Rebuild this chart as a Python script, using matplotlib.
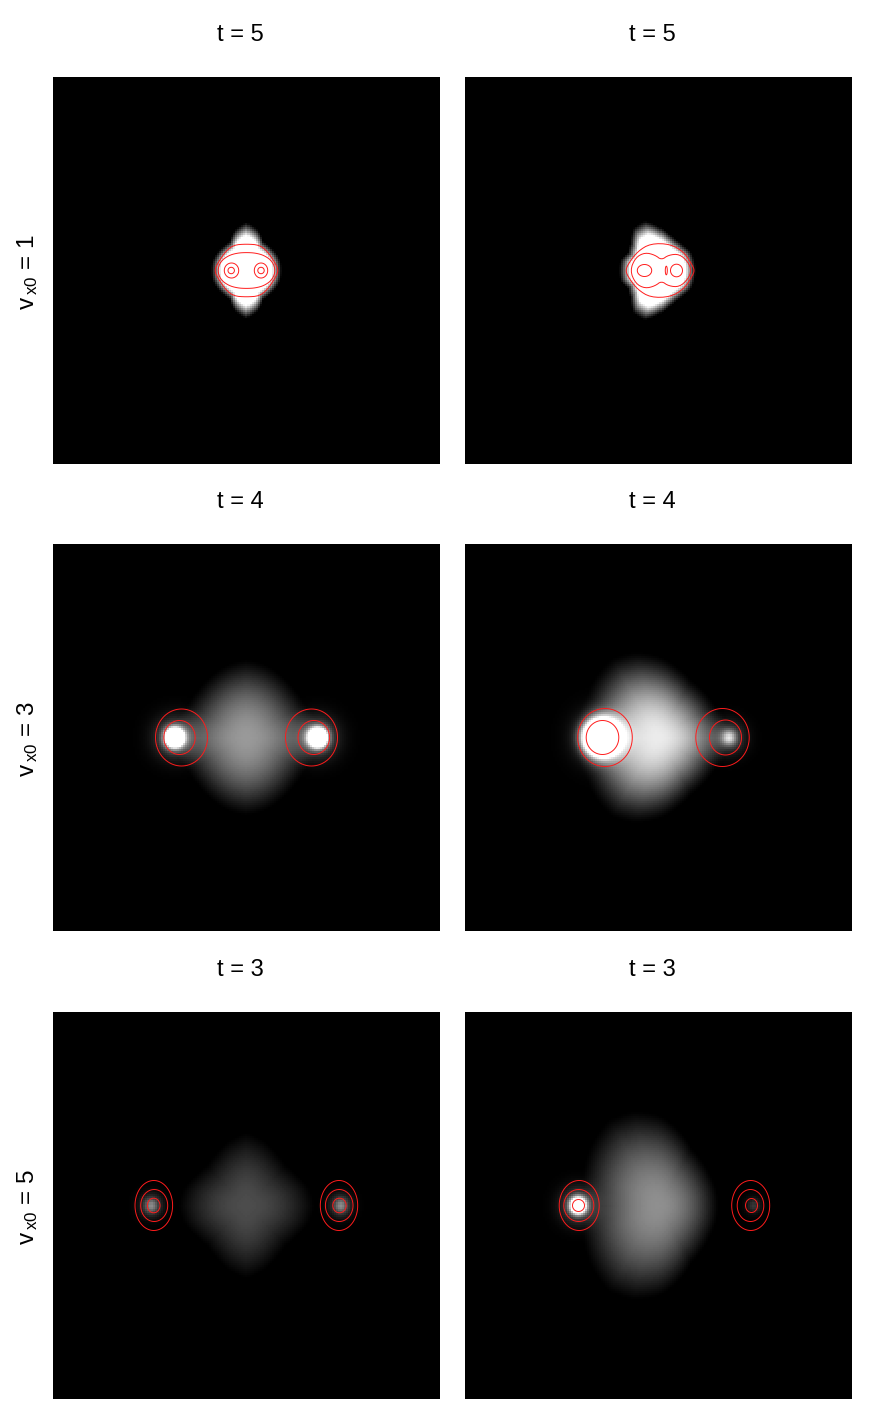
import numpy as np
import matplotlib
matplotlib.use('Agg')
import matplotlib.pyplot as plt
from matplotlib.patches import Polygon

plt.rcParams['font.family'] = ['Liberation Sans', 'DejaVu Sans']
plt.rcParams['mathtext.fontset'] = 'custom'
plt.rcParams['mathtext.rm'] = 'Liberation Sans'

W, H = 886, 1421
PANEL = 387
COLS = [53, 465]
ROWS = [77, 544, 1012]

TITLES = ['t = 5', 't = 4', 't = 3']
ROW_LABELS = [r'$\mathrm{v_{\,x0}}$ = 1', r'$\mathrm{v_{\,x0}}$ = 3', r'$\mathrm{v_{\,x0}}$ = 5']

# outline of the central cloud, radius in px every 15 deg from 0 to 180
radii_1a = [35, 35, 34, 33, 33, 42, 48, 42, 33, 33, 34, 35, 35]
radii_1b = [37, 37, 37, 35, 35, 38, 44, 51, 49, 39, 35, 39, 39]
radii_3a = [76, 72, 67, 68, 71, 75, 78, 75, 71, 68, 67, 72, 76]
radii_3b = [74, 70, 65, 65, 66, 73, 82, 89, 92, 88, 83, 83, 87]
radii_5a = [68, 65, 59, 56, 60, 67, 73, 67, 60, 56, 59, 65, 68]
radii_5b = [60, 60, 60, 62, 66, 78, 91, 98, 99, 92, 85, 78, 75]

# central brightness (above 1 saturates to white) and how fast it fades
peak_1a, peak_1b = 2.6, 2.6
peak_3a, peak_3b = 0.6, 0.92
peak_5a, peak_5b = 0.3, 0.56
falloff_1a, falloff_1b = 1.3, 1.3
falloff_3a, falloff_3b = 1.35, 1.5
falloff_5a, falloff_5b = 1.2, 1.3

# bright spots: x, amplitude, sigma x, sigma y
spots_3a = [(-71.5, 2.5, 6, 6), (-71.5, 0.35, 14, 14), (71, 2.5, 6, 6), (71, 0.35, 14, 14)]
spots_3b = [(-57, 4, 10, 10), (-57, 0.35, 17, 17), (70.5, 0.6, 5, 5), (70.5, 0.28, 11, 11)]
spots_5a = [(-95, 0.3, 4.5, 4.5), (-95, 0.25, 8, 8), (94, 0.3, 4.5, 4.5), (94, 0.25, 8, 8)]
spots_5b = [(-80, 2.2, 5, 5), (-80, 0.35, 12, 12), (95, 0.12, 4, 4), (95, 0.1, 6, 6)]

# red contours that are nearly elliptical: cx, cy, rx, ry
rings_1a = [(-15, 0, 7.2, 7.5), (-15.3, 0, 3.2, 3.2), (14.5, 0, 6.7, 7.5), (14.5, 0, 3.2, 3.2)]
rings_1b = [(-14, 0, 7.2, 6), (18, 0, 6, 6.3), (7.8, 0, 1, 4.3)]
rings_3a = [(-65, 0, 26, 28.5), (-67, 0, 15.7, 17), (65, 0, 26, 28.5), (67.3, 0, 15.8, 17)]
rings_3b = [(-53.5, 0, 27.3, 29), (-56, 0, 16.3, 17), (64, 0, 26.7, 29), (67, 0, 16, 17.5)]
rings_5a = [(-92.7, 0, 18.8, 25), (-92.3, 0, 13.5, 16), (-92.8, 0, 6.3, 7.3),
            (92.5, 0, 18.7, 25), (92.7, 0, 13.8, 16), (93, 0, 6.7, 7.3)]
rings_5b = [(-79.3, 0, 20, 25), (-79.7, 0, 15, 16), (-80, 0, 6, 6),
            (92.2, 0, 19, 25), (92, 0, 13.3, 16), (93, 0, 6, 7)]

# other contours, upper half only, mirrored in y when drawn
outer_1a = [(32, 0), (29, 7), (21, 19), (13, 25.5), (0, 26.5), (-13, 25.5), (-21, 19), (-29, 7), (-32, 0)]
inner_1a = [(29, 0), (26, 9), (18, 15), (9, 17.5), (0, 18), (-9, 17.5), (-18, 15), (-26, 9), (-29, 0)]
outer_1b = [(36, 0), (34, 5), (26, 18), (12, 26.5), (-8, 27), (-21, 19), (-30, 7), (-33, 0)]
inner_1b = [(32.5, 0), (30, 8), (21, 16.5), (10, 15.5), (3, 10.5), (-3.5, 15.5), (-13.5, 18), (-23, 13), (-28.5, 0)]

panels = [
    [(radii_1a, peak_1a, falloff_1a, [], rings_1a, [outer_1a, inner_1a]),
     (radii_1b, peak_1b, falloff_1b, [], rings_1b, [outer_1b, inner_1b])],
    [(radii_3a, peak_3a, falloff_3a, spots_3a, rings_3a, []),
     (radii_3b, peak_3b, falloff_3b, spots_3b, rings_3b, [])],
    [(radii_5a, peak_5a, falloff_5a, spots_5a, rings_5a, []),
     (radii_5b, peak_5b, falloff_5b, spots_5b, rings_5b, [])],
]


def build_field(radii, peak, falloff, spots, n=193):
    half = PANEL / 2
    c = (np.arange(n) + 0.5) / n * PANEL - half
    x, y = np.meshgrid(c, c)
    ang = np.degrees(np.arctan2(np.abs(y), x))
    edge = np.interp(ang, np.arange(0, 181, 15), radii)
    u = np.hypot(x, y) / edge
    img = peak * np.clip(1 - u ** 2, 0, 1) ** falloff
    for sx0, amp, sx, sy in spots:
        img += amp * np.exp(-((x - sx0) ** 2 / (2 * sx ** 2) + y ** 2 / (2 * sy ** 2)))
    return img


def rounded(pts, passes=2):
    # corner cutting so the read-off outline does not look like a polygon
    for _ in range(passes):
        nxt = np.roll(pts, -1, axis=0)
        pts = np.column_stack([0.75 * pts + 0.25 * nxt, 0.25 * pts + 0.75 * nxt]).reshape(-1, 2)
    return pts


def draw_line(ax, pts):
    ax.add_patch(Polygon(pts, closed=True, fill=False, ec='#ff1c1c', lw=0.7))


fig = plt.figure(figsize=(W / 100, H / 100), dpi=100)

for r, top in enumerate(ROWS):
    for c, left in enumerate(COLS):
        radii, peak, falloff, spots, rings, outlines = panels[r][c]
        ax = fig.add_axes([left / W, 1 - (top + PANEL) / H, PANEL / W, PANEL / H])
        ax.imshow(build_field(radii, peak, falloff, spots), cmap='gray', vmin=0, vmax=1,
                  origin='lower', interpolation='nearest',
                  extent=[-PANEL / 2, PANEL / 2, -PANEL / 2, PANEL / 2])
        t = np.linspace(0, 2 * np.pi, 80, endpoint=False)
        for cx, cy, rx, ry in rings:
            draw_line(ax, np.column_stack([cx + rx * np.cos(t), cy + ry * np.sin(t)]))
        for line in outlines:
            pts = np.array(line)
            lower = pts[-2:0:-1] * [1, -1]
            draw_line(ax, rounded(np.vstack([pts, lower])))
        ax.set_xticks([])
        ax.set_yticks([])
        for s in ax.spines.values():
            s.set_visible(False)
        fig.text((left + PANEL / 2 - 6) / W, 1 - (top - 42) / H, TITLES[r], fontsize=17,
                 ha='center', va='center')
    fig.text(27.5 / W, 1 - (top + PANEL / 2 + 2) / H, ROW_LABELS[r], fontsize=17.5,
             rotation=90, ha='center', va='center')

fig.savefig('out.png', dpi=100)
